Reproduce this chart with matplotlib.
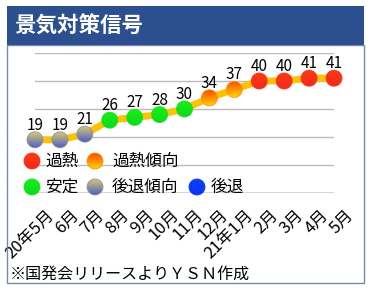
import numpy as np
import matplotlib
matplotlib.use("Agg")
import matplotlib.pyplot as plt
from matplotlib.patches import Circle, Rectangle
from matplotlib.transforms import ScaledTranslation
from matplotlib.colors import to_rgb

plt.rcParams['font.family'] = ['Noto Sans CJK JP', 'DejaVu Sans']

# ---------------- DATA ----------------
months = ['20年5月', '6月', '7月', '8月', '9月', '10月', '11月', '12月',
          '21年1月', '2月', '3月', '4月', '5月']
values = [19, 19, 21, 26, 27, 28, 30, 34, 37, 40, 40, 41, 41]
signals = ['後退傾向', '後退傾向', '後退傾向', '安定', '安定', '安定', '安定',
           '過熱傾向', '過熱傾向', '過熱', '過熱', '過熱', '過熱']

# top / bottom colour of each signal dot
signal_colors = {
    '過熱': ('#FF3A10', '#F02A20'),
    '過熱傾向': ('#FF4A00', '#FFD400'),
    '安定': ('#14F014', '#10D820'),
    '後退傾向': ('#D6C870', '#4A5EC8'),
    '後退': ('#0A40FF', '#0A34F0'),
}
legend_order = ['過熱', '過熱傾向', '安定', '後退傾向', '後退']

W, H, DPI = 372, 291, 100
fig = plt.figure(figsize=(W / DPI, H / DPI), dpi=DPI)


def px(x, y):
    # pixel position (from top-left) -> figure fraction
    return x / W, 1 - y / H


# ---------------- GRADIENT DOT ----------------
def grad_dot(ax, x, y, colors, base_trans, r=8, z=3):
    top, bot = np.array(to_rgb(colors[0])), np.array(to_rgb(colors[1]))
    t = np.linspace(0, 1, 64)[:, None, None]
    img = bot * (1 - t) + top * t
    img = np.repeat(img, 2, axis=1)
    rr = r / DPI
    trans = fig.dpi_scale_trans + ScaledTranslation(x, y, base_trans)
    circ = Circle((0, 0), rr, transform=trans)
    im = ax.imshow(img, extent=[-rr, rr, -rr, rr], origin='lower', aspect='auto',
                   transform=trans, interpolation='bilinear', zorder=z)
    im.set_clip_box(fig.bbox)
    im.set_clip_path(circ)
    # soft edge
    edge = Circle((0, 0), rr, transform=trans, fill=False, lw=0.6,
                  ec=tuple((top + bot) / 2), zorder=z, clip_on=False)
    ax.add_artist(edge)


# ---------------- FRAME & HEADER ----------------
x0, y0 = px(7, 283)
x1, y1 = px(364, 45)
fig.add_artist(Rectangle((x0, y0), x1 - x0, y1 - y0, transform=fig.transFigure,
                         fill=False, ec='#7888A8', lw=1))
hx, hy = px(7, 45)
fig.add_artist(Rectangle((hx, hy), x1 - hx, (1 - 6 / H) - hy, transform=fig.transFigure,
                         fc='#2C4F90', ec='none'))
fig.text(*px(14, 26), '景気対策信号', color='white', fontsize=15.5,
         fontweight='bold', va='center', ha='left')

# ---------------- CHART ----------------
ax_l, ax_b = px(35, 193)
ax_r, ax_t = px(334, 53)
ax = fig.add_axes([ax_l, ax_b, ax_r - ax_l, ax_t - ax_b])

xs = np.arange(len(values))
ax.plot(xs, values, color='#FFC200', lw=5, solid_capstyle='round', zorder=2)

for x, v, s in zip(xs, values, signals):
    grad_dot(ax, x, v, signal_colors[s], ax.transData)
    ax.annotate(str(v), (x, v), xytext=(0, 10), textcoords='offset pixels',
                ha='center', va='baseline', fontsize=11, zorder=5)

for g in [10, 20, 30, 40, 50]:
    ax.axhline(g, color='#BBBBBB', lw=1, zorder=0)
ax.axhline(0, color='#333333', lw=1, zorder=1)

for sp in ax.spines.values():
    sp.set_visible(False)
ax.set_xlim(0, 12)
ax.set_ylim(0, 50)
ax.set_yticks([])
ax.set_xticks(xs)
ax.set_xticklabels(months, rotation=45, ha='right', va='center',
                   rotation_mode='anchor', fontsize=12)
ax.tick_params(axis='x', length=0, pad=0)
for lab in ax.get_xticklabels():
    lab.set_transform(lab.get_transform() + ScaledTranslation(0.165, -0.195, fig.dpi_scale_trans))
ax.patch.set_visible(False)

# ---------------- LEGEND (manual) ----------------
legend_pos = {
    '過熱': (32, 45, 161),
    '過熱傾向': (95, 112, 161),
    '安定': (32, 45, 187),
    '後退傾向': (95, 112, 187),
    '後退': (197, 211, 187),
}
for name in legend_order:
    mx, tx, ly = legend_pos[name]
    fx, fy = px(mx, ly)
    grad_dot(ax, fx, fy, signal_colors[name], fig.transFigure)
    fig.text(*px(tx, ly), name, fontsize=12, va='center', ha='left')

ax.set_xlim(0, 12)
ax.set_ylim(0, 50)

# ---------------- FOOTER ----------------
fig.text(*px(10, 274), '※国発会リリースよりＹＳＮ作成', fontsize=11.5, va='center', ha='left')

fig.savefig('out.png', dpi=DPI)
